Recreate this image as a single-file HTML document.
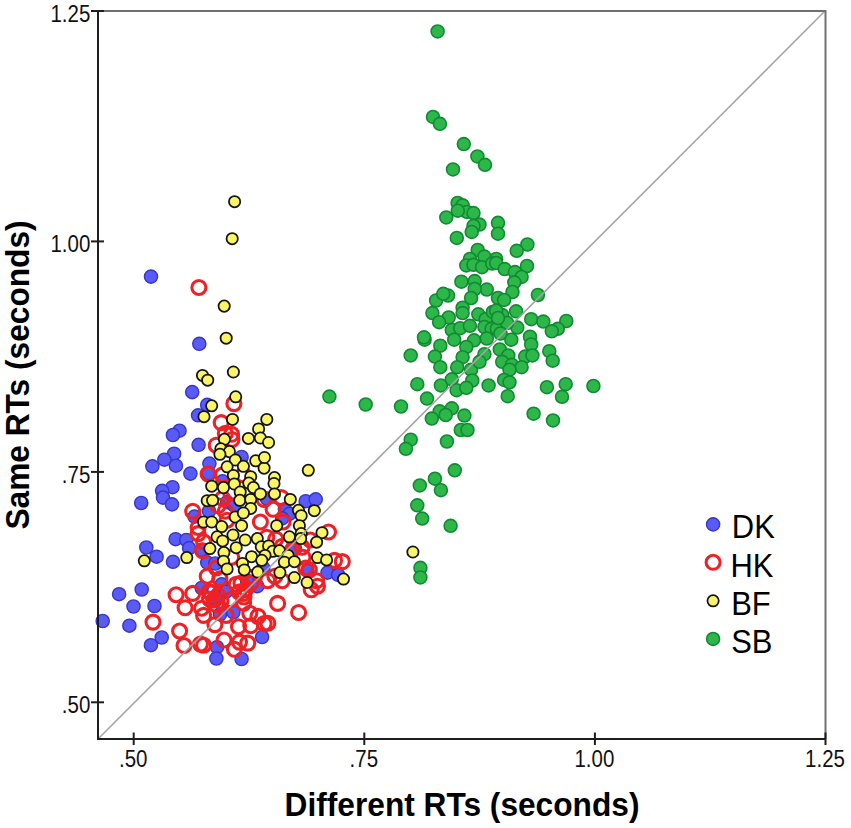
<!DOCTYPE html>
<html><head><meta charset="utf-8"><style>
html,body{margin:0;padding:0;background:#fff;width:851px;height:828px;overflow:hidden}
svg{position:absolute;left:0;top:0;font-family:"Liberation Sans",sans-serif}
</style></head><body>
<svg width="851" height="828" viewBox="0 0 851 828">
<rect x="0" y="0" width="851" height="828" fill="#fff"/>
<g fill="#5a5af6" stroke="#3636c8" stroke-width="1.4"><circle cx="151.0" cy="276.6" r="6.6"/><circle cx="199.3" cy="343.8" r="6.6"/><circle cx="192.2" cy="392.1" r="6.6"/><circle cx="179.5" cy="430.7" r="6.6"/><circle cx="172.9" cy="435.0" r="6.6"/><circle cx="174.1" cy="453.7" r="6.6"/><circle cx="164.4" cy="459.7" r="6.6"/><circle cx="152.4" cy="466.4" r="6.6"/><circle cx="175.9" cy="465.7" r="6.6"/><circle cx="190.4" cy="473.6" r="6.6"/><circle cx="207.2" cy="404.9" r="6.6"/><circle cx="198.1" cy="415.3" r="6.6"/><circle cx="198.6" cy="444.8" r="6.6"/><circle cx="241.6" cy="457.0" r="6.6"/><circle cx="172.5" cy="487.2" r="6.6"/><circle cx="162.1" cy="490.8" r="6.6"/><circle cx="163.0" cy="497.6" r="6.6"/><circle cx="172.0" cy="504.4" r="6.6"/><circle cx="141.2" cy="503.0" r="6.6"/><circle cx="209.4" cy="463.6" r="6.6"/><circle cx="208.5" cy="473.1" r="6.6"/><circle cx="222.6" cy="481.3" r="6.6"/><circle cx="227.1" cy="502.1" r="6.6"/><circle cx="234.3" cy="505.7" r="6.6"/><circle cx="194.5" cy="516.6" r="6.6"/><circle cx="209.0" cy="511.2" r="6.6"/><circle cx="305.7" cy="501.2" r="6.6"/><circle cx="315.7" cy="499.4" r="6.6"/><circle cx="266.8" cy="498.5" r="6.6"/><circle cx="284.9" cy="509.3" r="6.6"/><circle cx="289.4" cy="513.9" r="6.6"/><circle cx="282.2" cy="518.4" r="6.6"/><circle cx="146.3" cy="547.5" r="6.6"/><circle cx="156.6" cy="556.7" r="6.6"/><circle cx="175.6" cy="539.2" r="6.6"/><circle cx="173.0" cy="561.8" r="6.6"/><circle cx="119.1" cy="594.2" r="6.6"/><circle cx="141.7" cy="589.5" r="6.6"/><circle cx="133.5" cy="606.5" r="6.6"/><circle cx="154.5" cy="606.0" r="6.6"/><circle cx="186.3" cy="540.0" r="6.6"/><circle cx="189.1" cy="548.1" r="6.6"/><circle cx="201.7" cy="549.9" r="6.6"/><circle cx="207.2" cy="562.6" r="6.6"/><circle cx="215.3" cy="563.5" r="6.6"/><circle cx="221.7" cy="584.3" r="6.6"/><circle cx="201.7" cy="588.0" r="6.6"/><circle cx="226.2" cy="591.6" r="6.6"/><circle cx="214.4" cy="597.9" r="6.6"/><circle cx="247.0" cy="580.7" r="6.6"/><circle cx="257.3" cy="586.2" r="6.6"/><circle cx="327.5" cy="572.6" r="6.6"/><circle cx="307.5" cy="570.8" r="6.6"/><circle cx="263.2" cy="568.0" r="6.6"/><circle cx="294.9" cy="548.1" r="6.6"/><circle cx="338.1" cy="574.8" r="6.6"/><circle cx="102.7" cy="621.0" r="6.6"/><circle cx="129.4" cy="625.7" r="6.6"/><circle cx="161.7" cy="637.5" r="6.6"/><circle cx="150.9" cy="645.2" r="6.6"/><circle cx="217.0" cy="647.2" r="6.6"/><circle cx="216.4" cy="658.5" r="6.6"/><circle cx="241.6" cy="659.0" r="6.6"/><circle cx="262.1" cy="637.0" r="6.6"/><circle cx="220.0" cy="614.4" r="6.6"/><circle cx="233.4" cy="612.3" r="6.6"/></g>
<g fill="none" stroke="#ee2226" stroke-width="3.1"><circle cx="198.9" cy="287.5" r="7.0"/><circle cx="233.9" cy="403.6" r="7.0"/><circle cx="221.2" cy="422.6" r="7.0"/><circle cx="225.3" cy="433.4" r="7.0"/><circle cx="231.6" cy="434.3" r="7.0"/><circle cx="216.2" cy="445.2" r="7.0"/><circle cx="208.1" cy="474.0" r="7.0"/><circle cx="192.7" cy="511.2" r="7.0"/><circle cx="222.6" cy="474.9" r="7.0"/><circle cx="222.6" cy="498.5" r="7.0"/><circle cx="230.7" cy="493.0" r="7.0"/><circle cx="225.3" cy="511.2" r="7.0"/><circle cx="218.0" cy="505.7" r="7.0"/><circle cx="243.4" cy="474.9" r="7.0"/><circle cx="198.1" cy="527.5" r="7.0"/><circle cx="227.1" cy="520.2" r="7.0"/><circle cx="264.1" cy="499.4" r="7.0"/><circle cx="281.3" cy="497.6" r="7.0"/><circle cx="273.1" cy="509.3" r="7.0"/><circle cx="260.4" cy="522.0" r="7.0"/><circle cx="283.1" cy="522.0" r="7.0"/><circle cx="176.1" cy="594.7" r="7.0"/><circle cx="198.1" cy="533.6" r="7.0"/><circle cx="202.6" cy="550.8" r="7.0"/><circle cx="207.2" cy="576.2" r="7.0"/><circle cx="219.9" cy="578.9" r="7.0"/><circle cx="192.7" cy="593.4" r="7.0"/><circle cx="209.0" cy="591.6" r="7.0"/><circle cx="214.4" cy="599.7" r="7.0"/><circle cx="230.7" cy="599.7" r="7.0"/><circle cx="236.2" cy="584.3" r="7.0"/><circle cx="243.4" cy="593.4" r="7.0"/><circle cx="248.8" cy="577.1" r="7.0"/><circle cx="216.2" cy="568.0" r="7.0"/><circle cx="231.6" cy="557.2" r="7.0"/><circle cx="203.6" cy="541.8" r="7.0"/><circle cx="266.8" cy="537.2" r="7.0"/><circle cx="275.8" cy="539.1" r="7.0"/><circle cx="282.2" cy="546.3" r="7.0"/><circle cx="293.0" cy="549.0" r="7.0"/><circle cx="302.1" cy="547.2" r="7.0"/><circle cx="310.3" cy="540.0" r="7.0"/><circle cx="303.0" cy="557.2" r="7.0"/><circle cx="305.7" cy="568.0" r="7.0"/><circle cx="309.3" cy="569.9" r="7.0"/><circle cx="267.7" cy="580.7" r="7.0"/><circle cx="274.9" cy="576.2" r="7.0"/><circle cx="282.2" cy="580.7" r="7.0"/><circle cx="316.6" cy="580.7" r="7.0"/><circle cx="317.5" cy="586.2" r="7.0"/><circle cx="311.2" cy="589.8" r="7.0"/><circle cx="277.6" cy="603.4" r="7.0"/><circle cx="328.5" cy="532.0" r="7.0"/><circle cx="334.5" cy="560.4" r="7.0"/><circle cx="342.3" cy="561.6" r="7.0"/><circle cx="153.0" cy="622.1" r="7.0"/><circle cx="179.6" cy="631.0" r="7.0"/><circle cx="184.0" cy="645.5" r="7.0"/><circle cx="185.1" cy="607.7" r="7.0"/><circle cx="201.6" cy="608.2" r="7.0"/><circle cx="203.6" cy="615.4" r="7.0"/><circle cx="214.9" cy="624.6" r="7.0"/><circle cx="243.6" cy="603.1" r="7.0"/><circle cx="249.8" cy="613.3" r="7.0"/><circle cx="258.0" cy="616.4" r="7.0"/><circle cx="238.5" cy="626.7" r="7.0"/><circle cx="250.8" cy="625.7" r="7.0"/><circle cx="264.2" cy="623.6" r="7.0"/><circle cx="200.5" cy="644.1" r="7.0"/><circle cx="203.6" cy="645.2" r="7.0"/><circle cx="224.1" cy="640.0" r="7.0"/><circle cx="234.4" cy="649.3" r="7.0"/><circle cx="239.5" cy="642.1" r="7.0"/><circle cx="247.8" cy="643.1" r="7.0"/><circle cx="226.2" cy="615.4" r="7.0"/><circle cx="298.6" cy="612.5" r="7.0"/><circle cx="267.8" cy="623.2" r="7.0"/><circle cx="211.0" cy="593.0" r="7.0"/><circle cx="218.0" cy="595.5" r="7.0"/><circle cx="214.0" cy="600.0" r="7.0"/><circle cx="221.0" cy="601.0" r="7.0"/><circle cx="216.0" cy="604.5" r="7.0"/><circle cx="209.5" cy="599.0" r="7.0"/><circle cx="241.0" cy="583.0" r="7.0"/><circle cx="246.0" cy="589.0" r="7.0"/><circle cx="239.0" cy="592.0" r="7.0"/><circle cx="251.0" cy="583.0" r="7.0"/><circle cx="244.0" cy="597.0" r="7.0"/><circle cx="232.0" cy="439.5" r="7.0"/></g>
<g fill="#f9f567" stroke="#141414" stroke-width="1.75"><circle cx="308.3" cy="470.3" r="5.65"/><circle cx="412.9" cy="552.0" r="5.65"/><circle cx="234.6" cy="201.7" r="5.65"/><circle cx="232.2" cy="238.7" r="5.65"/><circle cx="224.2" cy="306.1" r="5.65"/><circle cx="226.2" cy="338.2" r="5.65"/><circle cx="233.4" cy="372.0" r="5.65"/><circle cx="202.5" cy="375.4" r="5.65"/><circle cx="207.7" cy="380.2" r="5.65"/><circle cx="211.7" cy="405.8" r="5.65"/><circle cx="204.0" cy="416.7" r="5.65"/><circle cx="235.7" cy="396.8" r="5.65"/><circle cx="232.5" cy="419.4" r="5.65"/><circle cx="224.4" cy="439.3" r="5.65"/><circle cx="248.4" cy="438.4" r="5.65"/><circle cx="220.8" cy="448.8" r="5.65"/><circle cx="229.4" cy="451.6" r="5.65"/><circle cx="219.9" cy="454.3" r="5.65"/><circle cx="266.8" cy="419.4" r="5.65"/><circle cx="258.6" cy="428.9" r="5.65"/><circle cx="260.4" cy="438.0" r="5.65"/><circle cx="268.6" cy="442.5" r="5.65"/><circle cx="235.3" cy="460.0" r="5.65"/><circle cx="227.1" cy="466.8" r="5.65"/><circle cx="243.4" cy="466.3" r="5.65"/><circle cx="255.7" cy="460.8" r="5.65"/><circle cx="233.4" cy="475.4" r="5.65"/><circle cx="250.7" cy="476.7" r="5.65"/><circle cx="211.7" cy="486.2" r="5.65"/><circle cx="223.5" cy="487.6" r="5.65"/><circle cx="234.3" cy="484.0" r="5.65"/><circle cx="248.8" cy="483.1" r="5.65"/><circle cx="253.4" cy="487.6" r="5.65"/><circle cx="240.2" cy="492.1" r="5.65"/><circle cx="207.2" cy="500.7" r="5.65"/><circle cx="212.6" cy="500.3" r="5.65"/><circle cx="239.8" cy="500.3" r="5.65"/><circle cx="250.7" cy="499.4" r="5.65"/><circle cx="250.7" cy="508.4" r="5.65"/><circle cx="235.3" cy="517.0" r="5.65"/><circle cx="243.4" cy="513.0" r="5.65"/><circle cx="203.6" cy="522.0" r="5.65"/><circle cx="211.7" cy="522.0" r="5.65"/><circle cx="221.7" cy="526.6" r="5.65"/><circle cx="241.6" cy="525.7" r="5.65"/><circle cx="264.1" cy="468.1" r="5.65"/><circle cx="274.5" cy="477.6" r="5.65"/><circle cx="274.0" cy="483.5" r="5.65"/><circle cx="260.4" cy="493.9" r="5.65"/><circle cx="274.5" cy="493.9" r="5.65"/><circle cx="290.3" cy="499.4" r="5.65"/><circle cx="298.5" cy="510.3" r="5.65"/><circle cx="301.2" cy="515.7" r="5.65"/><circle cx="314.3" cy="510.7" r="5.65"/><circle cx="276.7" cy="525.7" r="5.65"/><circle cx="299.4" cy="525.7" r="5.65"/><circle cx="144.3" cy="560.8" r="5.65"/><circle cx="217.1" cy="536.8" r="5.65"/><circle cx="233.0" cy="535.0" r="5.65"/><circle cx="245.2" cy="540.0" r="5.65"/><circle cx="222.6" cy="540.9" r="5.65"/><circle cx="209.9" cy="548.6" r="5.65"/><circle cx="223.9" cy="552.6" r="5.65"/><circle cx="236.2" cy="547.7" r="5.65"/><circle cx="251.6" cy="556.7" r="5.65"/><circle cx="186.8" cy="557.6" r="5.65"/><circle cx="223.5" cy="561.2" r="5.65"/><circle cx="227.1" cy="568.9" r="5.65"/><circle cx="242.5" cy="563.5" r="5.65"/><circle cx="244.3" cy="569.9" r="5.65"/><circle cx="289.4" cy="536.8" r="5.65"/><circle cx="301.2" cy="533.6" r="5.65"/><circle cx="300.7" cy="538.6" r="5.65"/><circle cx="322.0" cy="532.7" r="5.65"/><circle cx="316.6" cy="542.2" r="5.65"/><circle cx="257.3" cy="538.6" r="5.65"/><circle cx="261.3" cy="546.8" r="5.65"/><circle cx="268.6" cy="545.9" r="5.65"/><circle cx="272.7" cy="551.3" r="5.65"/><circle cx="279.5" cy="550.8" r="5.65"/><circle cx="288.1" cy="555.4" r="5.65"/><circle cx="265.0" cy="555.4" r="5.65"/><circle cx="261.8" cy="560.3" r="5.65"/><circle cx="284.4" cy="562.2" r="5.65"/><circle cx="294.4" cy="561.7" r="5.65"/><circle cx="317.5" cy="557.6" r="5.65"/><circle cx="326.6" cy="559.9" r="5.65"/><circle cx="257.7" cy="572.1" r="5.65"/><circle cx="279.9" cy="572.6" r="5.65"/><circle cx="294.4" cy="577.6" r="5.65"/><circle cx="307.1" cy="582.5" r="5.65"/><circle cx="343.5" cy="579.1" r="5.65"/><circle cx="264.5" cy="457.5" r="5.65"/></g>
<g fill="#2db749" stroke="#118a33" stroke-width="1.6"><circle cx="437.6" cy="31.4" r="6.45"/><circle cx="433.0" cy="116.9" r="6.45"/><circle cx="439.9" cy="123.8" r="6.45"/><circle cx="463.8" cy="144.1" r="6.45"/><circle cx="477.4" cy="156.4" r="6.45"/><circle cx="453.0" cy="169.4" r="6.45"/><circle cx="485.0" cy="164.8" r="6.45"/><circle cx="457.6" cy="202.9" r="6.45"/><circle cx="462.6" cy="205.3" r="6.45"/><circle cx="466.9" cy="211.9" r="6.45"/><circle cx="473.5" cy="213.1" r="6.45"/><circle cx="457.8" cy="210.7" r="6.45"/><circle cx="446.3" cy="217.4" r="6.45"/><circle cx="479.5" cy="224.6" r="6.45"/><circle cx="473.5" cy="225.8" r="6.45"/><circle cx="471.7" cy="231.9" r="6.45"/><circle cx="456.8" cy="237.9" r="6.45"/><circle cx="477.7" cy="250.0" r="6.45"/><circle cx="484.4" cy="256.6" r="6.45"/><circle cx="469.9" cy="259.0" r="6.45"/><circle cx="498.0" cy="222.8" r="6.45"/><circle cx="498.0" cy="233.7" r="6.45"/><circle cx="527.4" cy="244.5" r="6.45"/><circle cx="516.7" cy="250.8" r="6.45"/><circle cx="496.2" cy="259.0" r="6.45"/><circle cx="466.3" cy="265.4" r="6.45"/><circle cx="473.5" cy="264.8" r="6.45"/><circle cx="482.0" cy="267.2" r="6.45"/><circle cx="492.2" cy="263.6" r="6.45"/><circle cx="461.4" cy="281.7" r="6.45"/><circle cx="474.7" cy="281.1" r="6.45"/><circle cx="486.8" cy="289.6" r="6.45"/><circle cx="474.7" cy="289.0" r="6.45"/><circle cx="448.1" cy="295.6" r="6.45"/><circle cx="436.1" cy="300.5" r="6.45"/><circle cx="443.3" cy="293.8" r="6.45"/><circle cx="471.1" cy="298.0" r="6.45"/><circle cx="432.4" cy="313.1" r="6.45"/><circle cx="462.6" cy="307.7" r="6.45"/><circle cx="462.6" cy="313.1" r="6.45"/><circle cx="448.7" cy="317.4" r="6.45"/><circle cx="439.1" cy="322.2" r="6.45"/><circle cx="478.3" cy="314.3" r="6.45"/><circle cx="485.6" cy="319.2" r="6.45"/><circle cx="492.8" cy="311.9" r="6.45"/><circle cx="451.8" cy="330.0" r="6.45"/><circle cx="460.2" cy="328.2" r="6.45"/><circle cx="469.9" cy="325.8" r="6.45"/><circle cx="484.4" cy="327.0" r="6.45"/><circle cx="491.6" cy="328.8" r="6.45"/><circle cx="424.6" cy="339.7" r="6.45"/><circle cx="424.0" cy="337.3" r="6.45"/><circle cx="454.2" cy="339.7" r="6.45"/><circle cx="474.1" cy="340.3" r="6.45"/><circle cx="486.8" cy="338.5" r="6.45"/><circle cx="440.3" cy="345.7" r="6.45"/><circle cx="466.3" cy="347.0" r="6.45"/><circle cx="410.7" cy="355.4" r="6.45"/><circle cx="434.9" cy="356.6" r="6.45"/><circle cx="462.6" cy="357.2" r="6.45"/><circle cx="484.4" cy="354.2" r="6.45"/><circle cx="496.2" cy="263.0" r="6.45"/><circle cx="504.7" cy="269.1" r="6.45"/><circle cx="514.9" cy="272.1" r="6.45"/><circle cx="527.0" cy="266.0" r="6.45"/><circle cx="521.6" cy="276.9" r="6.45"/><circle cx="514.3" cy="282.3" r="6.45"/><circle cx="512.5" cy="292.0" r="6.45"/><circle cx="537.9" cy="295.0" r="6.45"/><circle cx="498.0" cy="298.0" r="6.45"/><circle cx="504.1" cy="299.9" r="6.45"/><circle cx="502.2" cy="315.0" r="6.45"/><circle cx="516.1" cy="311.3" r="6.45"/><circle cx="496.2" cy="310.7" r="6.45"/><circle cx="531.2" cy="319.2" r="6.45"/><circle cx="543.3" cy="321.6" r="6.45"/><circle cx="566.3" cy="321.0" r="6.45"/><circle cx="557.8" cy="328.8" r="6.45"/><circle cx="551.8" cy="331.3" r="6.45"/><circle cx="496.8" cy="328.8" r="6.45"/><circle cx="517.3" cy="327.6" r="6.45"/><circle cx="507.1" cy="322.8" r="6.45"/><circle cx="530.0" cy="336.7" r="6.45"/><circle cx="511.3" cy="339.7" r="6.45"/><circle cx="531.2" cy="344.5" r="6.45"/><circle cx="549.3" cy="351.2" r="6.45"/><circle cx="552.7" cy="360.7" r="6.45"/><circle cx="499.8" cy="349.4" r="6.45"/><circle cx="508.3" cy="355.4" r="6.45"/><circle cx="525.2" cy="356.6" r="6.45"/><circle cx="532.4" cy="355.4" r="6.45"/><circle cx="440.3" cy="367.2" r="6.45"/><circle cx="457.2" cy="367.2" r="6.45"/><circle cx="471.1" cy="369.7" r="6.45"/><circle cx="479.5" cy="361.8" r="6.45"/><circle cx="417.3" cy="384.2" r="6.45"/><circle cx="440.9" cy="385.4" r="6.45"/><circle cx="451.8" cy="379.3" r="6.45"/><circle cx="472.3" cy="380.5" r="6.45"/><circle cx="456.6" cy="390.2" r="6.45"/><circle cx="466.3" cy="387.8" r="6.45"/><circle cx="488.6" cy="385.4" r="6.45"/><circle cx="427.0" cy="398.6" r="6.45"/><circle cx="401.0" cy="406.5" r="6.45"/><circle cx="439.7" cy="411.3" r="6.45"/><circle cx="431.8" cy="418.6" r="6.45"/><circle cx="451.8" cy="408.3" r="6.45"/><circle cx="445.7" cy="415.0" r="6.45"/><circle cx="464.4" cy="415.6" r="6.45"/><circle cx="460.8" cy="430.0" r="6.45"/><circle cx="467.5" cy="430.0" r="6.45"/><circle cx="410.7" cy="439.7" r="6.45"/><circle cx="405.9" cy="448.8" r="6.45"/><circle cx="446.9" cy="441.5" r="6.45"/><circle cx="502.2" cy="361.8" r="6.45"/><circle cx="511.9" cy="364.8" r="6.45"/><circle cx="521.6" cy="367.2" r="6.45"/><circle cx="509.5" cy="369.7" r="6.45"/><circle cx="504.1" cy="379.9" r="6.45"/><circle cx="509.5" cy="382.3" r="6.45"/><circle cx="507.7" cy="396.2" r="6.45"/><circle cx="546.9" cy="387.2" r="6.45"/><circle cx="565.7" cy="384.2" r="6.45"/><circle cx="562.0" cy="396.8" r="6.45"/><circle cx="593.4" cy="386.0" r="6.45"/><circle cx="533.6" cy="413.7" r="6.45"/><circle cx="553.0" cy="420.4" r="6.45"/><circle cx="329.4" cy="396.6" r="6.45"/><circle cx="365.7" cy="404.5" r="6.45"/><circle cx="454.8" cy="470.3" r="6.45"/><circle cx="434.9" cy="478.7" r="6.45"/><circle cx="440.9" cy="490.2" r="6.45"/><circle cx="419.8" cy="485.4" r="6.45"/><circle cx="417.3" cy="505.3" r="6.45"/><circle cx="422.2" cy="518.6" r="6.45"/><circle cx="450.6" cy="525.8" r="6.45"/><circle cx="420.4" cy="567.8" r="6.45"/><circle cx="420.4" cy="577.4" r="6.45"/><circle cx="500.5" cy="333.5" r="6.45"/><circle cx="498.0" cy="318.0" r="6.45"/></g>

<line x1="98" y1="739" x2="825" y2="11" stroke="#a4a4a4" stroke-width="1.6"/>
<path d="M98 11H825.5V739" fill="none" stroke="#707070" stroke-width="2"/>
<path d="M98 11V739H826" fill="none" stroke="#1e1e1e" stroke-width="2"/>
<g stroke="#1e1e1e" stroke-width="2"><line x1="91" y1="11.0" x2="104" y2="11.0"/><line x1="91" y1="241.4" x2="104" y2="241.4"/><line x1="91" y1="471.9" x2="104" y2="471.9"/><line x1="91" y1="702.3" x2="104" y2="702.3"/><line x1="133.7" y1="732.5" x2="133.7" y2="745"/><line x1="364.3" y1="732.5" x2="364.3" y2="745"/><line x1="594.9" y1="732.5" x2="594.9" y2="745"/><line x1="825.5" y1="732.5" x2="825.5" y2="745"/></g>
<g font-size="23" fill="#111"><text transform="translate(90.3,21.8) scale(0.89,1)" text-anchor="end">1.25</text><text transform="translate(90.3,252.2) scale(0.89,1)" text-anchor="end">1.00</text><text transform="translate(90.3,482.7) scale(0.89,1)" text-anchor="end">.75</text><text transform="translate(90.3,713.1) scale(0.89,1)" text-anchor="end">.50</text><text transform="translate(133.2,767.4) scale(0.89,1)" text-anchor="middle">.50</text><text transform="translate(363.8,767.4) scale(0.89,1)" text-anchor="middle">.75</text><text transform="translate(594.4,767.4) scale(0.89,1)" text-anchor="middle">1.00</text><text transform="translate(825.0,767.4) scale(0.89,1)" text-anchor="middle">1.25</text></g>
<text transform="translate(462,815.5) scale(0.975,1)" text-anchor="middle" font-size="32.5" font-weight="bold" fill="#000">Different RTs (seconds)</text>
<text transform="translate(29,375) rotate(-90) scale(0.975,1)" text-anchor="middle" font-size="32.5" font-weight="bold" fill="#000">Same RTs (seconds)</text>
<circle cx="713.1" cy="524.4" r="6.6" fill="#5a5af6" stroke="#3636c8" stroke-width="1.4"/>
<circle cx="713.1" cy="562.3" r="7.0" fill="none" stroke="#ee2226" stroke-width="3.1"/>
<circle cx="713.1" cy="600.8" r="5.65" fill="#f9f567" stroke="#141414" stroke-width="1.75"/>
<circle cx="713.1" cy="638.9" r="6.45" fill="#2db749" stroke="#118a33" stroke-width="1.6"/>
<g font-size="34" fill="#000"><text transform="translate(731.8,538.4) scale(0.91,1)">DK</text><text transform="translate(730.4,576.6) scale(0.91,1)">HK</text><text transform="translate(731.2,614.9) scale(0.91,1)">BF</text><text transform="translate(731.2,653) scale(0.91,1)">SB</text></g>
</svg>
</body></html>
